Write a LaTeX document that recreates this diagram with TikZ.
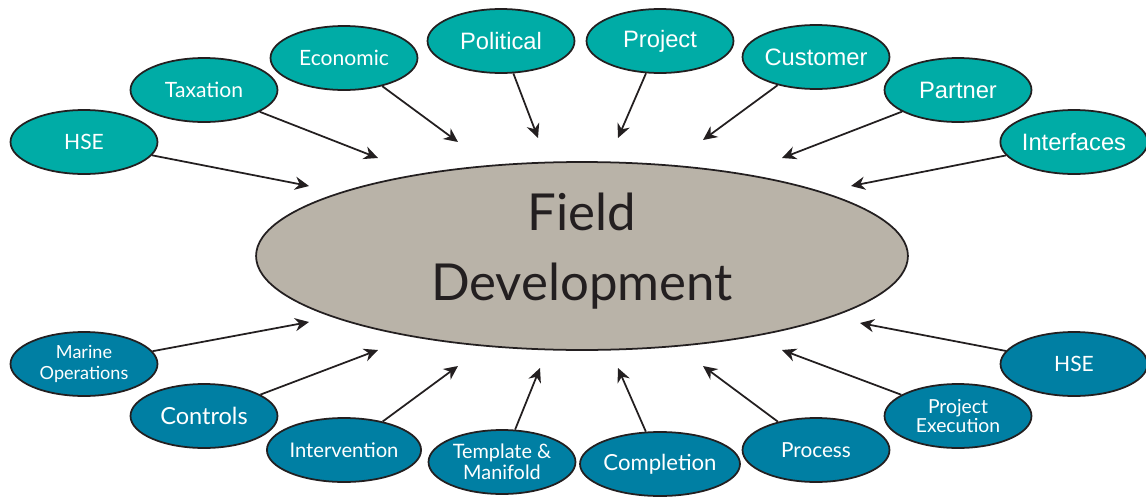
\documentclass[tikz,border=0pt]{standalone}
\usepackage{fontspec}
\setmainfont{Lato}
\newfontfamily\arialfont{Liberation Sans}
\newfontfamily\fdfont{Lato}
\usetikzlibrary{shapes.geometric,arrows.meta}

\definecolor{teal1}{HTML}{00ACA6}
\definecolor{blue1}{HTML}{007FA3}
\definecolor{stone}{HTML}{B9B3A8}
\definecolor{ink}{HTML}{231F20}

\begin{document}
\begin{tikzpicture}
		[x=0.02cm,y=-0.02cm,
		 tn/.style= {ellipse,draw=ink,line width=1pt,fill=teal1,text=white,inner sep=0pt,minimum width=2.94cm,minimum height=1.28cm,align=center},
		 bn/.style= {tn,fill=blue1},
		 cn/.style= {ellipse,draw=ink,line width=1pt,fill=stone,text=ink,inner sep=0pt,minimum width=13.04cm,minimum height=3.76cm,align=center},
		 arr/.style= {-{Stealth[length=8pt,width=7.5pt]},line width=1pt,draw=ink}]

		\useasboundingbox (0,0) rectangle (1146,497);

		\node[cn] (fd) at (582,256) {}
		;
		\node[font=\fdfont\fontsize{29}{39.7}\selectfont,text=ink,align=center] (fdt) at (582,251) {Field\\Development}
		;

		% arrow tips round the centre
		\coordinate (c-hse1) at (309,186);
		\coordinate (c-tax) at (378,158);
		\coordinate (c-eco) at (458,142);
		\coordinate (c-pol) at (538,138);
		\coordinate (c-proj) at (618,138);
		\coordinate (c-cus) at (703,140);
		\coordinate (c-par) at (782,158);
		\coordinate (c-int) at (851,186);
		\coordinate (c-mar) at (309,322);
		\coordinate (c-con) at (378,350);
		\coordinate (c-intv) at (458,366);
		\coordinate (c-tem) at (540,368);
		\coordinate (c-com) at (618,368);
		\coordinate (c-pro) at (703,366);
		\coordinate (c-pex) at (782,350);
		\coordinate (c-hse2) at (860,323);

		% upper ring
		\node[tn,font=\fontsize{12}{14}\selectfont] (hse1) at (84,142) {HSE}
			edge [arr]	(c-hse1)
		;

		\node[tn,font=\fontsize{12}{14}\selectfont] (tax) at (204,90) {Taxation}
			edge [arr]	(c-tax)
		;

		\node[tn,font=\fontsize{12}{14}\selectfont] (eco) at (344,58) {Economic}
			edge [arr]	(c-eco)
		;

		\node[tn,font=\arialfont\fontsize{13.5}{16}\selectfont] (pol) at (501,41) {Political}
			edge [arr]	(c-pol)
		;

		\node[tn,font=\arialfont\fontsize{13.5}{16}\selectfont] (proj) at (660,41) {Project}
			edge [arr]	(c-proj)
		;

		\node[tn,font=\arialfont\fontsize{13.5}{16}\selectfont] (cus) at (816,57) {Customer}
			edge [arr]	(c-cus)
		;

		\node[tn,font=\arialfont\fontsize{13.5}{16}\selectfont] (par) at (958,90) {Partner}
			edge [arr]	(c-par)
		;

		\node[tn,font=\arialfont\fontsize{13.5}{16}\selectfont] (int) at (1074,142) {Interfaces}
			edge [arr]	(c-int)
		;

		% lower ring
		\node[bn,font=\fontsize{10.3}{12}\selectfont] (mar) at (84,364) {Marine\\Operations}
			edge [arr]	(c-mar)
		;

		\node[bn,font=\fontsize{13.4}{16}\selectfont] (con) at (204,416) {Controls}
			edge [arr]	(c-con)
		;

		\node[bn,font=\fontsize{11.5}{14}\selectfont] (intv) at (344,450) {Intervention}
			edge [arr]	(c-intv)
		;

		\node[bn,font=\fontsize{11.3}{12}\selectfont] (tem) at (502,462) {Template \&\\Manifold}
			edge [arr]	(c-tem)
		;

		\node[bn,font=\fontsize{12.6}{15}\selectfont] (com) at (660,464) {Completion}
			edge [arr]	(c-com)
		;

		\node[bn,font=\fontsize{11.8}{14}\selectfont] (pro) at (816,450) {Process}
			edge [arr]	(c-pro)
		;

		\node[bn,font=\fontsize{11}{11.3}\selectfont] (pex) at (958,416) {Project\\Execution}
			edge [arr]	(c-pex)
		;

		\node[bn,font=\fontsize{12}{14}\selectfont] (hse2) at (1074,364) {HSE}
			edge [arr]	(c-hse2)
		;

	\end{tikzpicture}
\end{document}
